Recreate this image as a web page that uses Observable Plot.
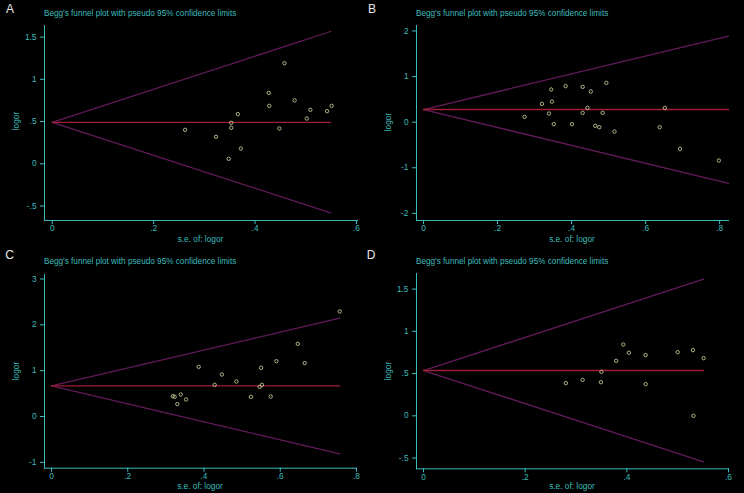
<!DOCTYPE html>
<html>
<head>
<meta charset="utf-8">
<script src="https://cdn.jsdelivr.net/npm/d3@7"></script>
<script src="https://cdn.jsdelivr.net/npm/@observablehq/plot@0.6"></script>
<style>
  html, body { margin: 0; padding: 0; background: #000; }
  #root { position: relative; width: 744px; height: 493px; background: #000; overflow: hidden;
          font-family: "Liberation Sans", Arial, sans-serif; }
  .panel { position: absolute; width: 372px; }
  .panel svg { display: block; }
  .ttl { position: absolute; color: #3cbcbc; font-size: 8.2px; line-height: 10px; white-space: nowrap; }
  .ylab { position: absolute; color: #3cbcbc; font-size: 8.3px; line-height: 8px; white-space: nowrap;
          transform: translate(-50%, -50%) rotate(-90deg); }
  .xlab { position: absolute; color: #3cbcbc; font-size: 8.3px; line-height: 8px; white-space: nowrap;
          transform: translate(-50%, -50%); }
  .letter { position: absolute; color: #e8e8e8; font-size: 12px; line-height: 14px; transform: translate(-50%, -50%); }
</style>
</head>
<body>
<div id="root"></div>
<script>
// ---------- data ----------
const panelLetters = ["A", "B", "C", "D"];
const titleText = "Begg's funnel plot with pseudo 95% confidence limits";
const xTitle = "s.e. of: logor";
const yTitle = "logor";

// Panel A
const seA     = [0.262, 0.323, 0.348, 0.353, 0.353, 0.366, 0.372, 0.427, 0.428, 0.448, 0.458, 0.478, 0.502, 0.509, 0.542, 0.551];
const logorA  = [0.402, 0.320, 0.059, 0.485, 0.426, 0.588, 0.181, 0.840, 0.686, 0.418, 1.191, 0.750, 0.536, 0.639, 0.623, 0.686];
const funnelA = [0.49, 0.549, 1.566, -0.58];   // theta, max s.e., upper limit, lower limit
const xTicksA = [0, 0.2, 0.4, 0.6];
const yTicksA = [-0.5, 0, 0.5, 1, 1.5];

// Panel B
const seB     = [0.273, 0.320, 0.339, 0.345, 0.347, 0.352, 0.384, 0.401, 0.430, 0.430, 0.443, 0.452, 0.464, 0.475, 0.484, 0.494, 0.516, 0.638, 0.652, 0.693, 0.798];
const logorB  = [0.117, 0.402, 0.190, 0.717, 0.453, -0.044, 0.790, -0.044, 0.775, 0.205, 0.314, 0.673, -0.080, -0.110, 0.205, 0.863, -0.205, -0.110, 0.314, -0.585, -0.841];
const funnelB = [0.278, 0.824, 1.887, -1.345];
const xTicksB = [0, 0.2, 0.4, 0.6, 0.8];
const yTicksB = [-2, -1, 0, 1, 2];

// Panel C
const seC     = [0.318, 0.323, 0.330, 0.339, 0.353, 0.386, 0.428, 0.447, 0.485, 0.523, 0.546, 0.550, 0.552, 0.575, 0.590, 0.646, 0.664, 0.756];
const logorC  = [0.444, 0.429, 0.269, 0.480, 0.371, 1.084, 0.691, 0.916, 0.764, 0.429, 0.647, 1.062, 0.691, 0.436, 1.207, 1.585, 1.164, 2.291];
const funnelC = [0.669, 0.756, 2.145, -0.815];
const xTicksC = [0, 0.2, 0.4, 0.6, 0.8];
const yTicksC = [-1, 0, 1, 2, 3];

// Panel D
const seD     = [0.280, 0.313, 0.349, 0.350, 0.379, 0.393, 0.404, 0.437, 0.437, 0.500, 0.530, 0.531, 0.551];
const logorD  = [0.387, 0.426, 0.398, 0.521, 0.651, 0.844, 0.746, 0.718, 0.375, 0.753, 0.777, 0.000, 0.682];
const funnelD = [0.536, 0.551, 1.617, -0.544];
const xTicksD = [0, 0.2, 0.4, 0.6];
const yTicksD = [-0.5, 0, 0.5, 1, 1.5];

// ---------- layout (styles, not data) ----------
const CYAN = "#3cbcbc";
const panels = [
  {se: seA, logor: logorA, funnel: funnelA, xt: xTicksA, yt: yTicksA,
   left: 0, top: 0, h: 246, mt: 25, mb: 26, mr: 15,
   xd: [-0.0152, 0.602], yd: [-0.671, 1.637], ttlY: 9, xlabY: 238.5, ylabY: 121},
  {se: seB, logor: logorB, funnel: funnelB, xt: xTicksB, yt: yTicksB,
   left: 372, top: 0, h: 246, mt: 25, mb: 26, mr: 16,
   xd: [-0.0189, 0.824], yd: [-2.157, 2.121], ttlY: 9, xlabY: 238.5, ylabY: 121.7},
  {se: seC, logor: logorC, funnel: funnelC, xt: xTicksC, yt: yTicksC,
   left: 0, top: 246, h: 247, mt: 28, mb: 25.3, mr: 16,
   xd: [-0.0184, 0.800], yd: [-1.128, 3.098], ttlY: 11, xlabY: 239.5, ylabY: 125},
  {se: seD, logor: logorD, funnel: funnelD, xt: xTicksD, yt: yTicksD,
   left: 372, top: 246, h: 247, mt: 27, mb: 24.7, mr: 16,
   xd: [-0.0138, 0.600], yd: [-0.627, 1.684], ttlY: 11, xlabY: 240, ylabY: 125}
];
const letterPos = [[10, 9], [372, 9], [9.5, 255], [371, 255]];

const fmt = d => d === 0 ? "0" : String(d).replace(/^0\./, ".").replace(/^-0\./, "-.");

const root = document.getElementById("root");

panels.forEach((p, i) => {
  const pts = p.se.map((s, k) => ({se: s, logor: p.logor[k]}));
  const [theta, seMax, upper, lower] = p.funnel;
  const upperLine = [{se: 0, logor: theta}, {se: seMax, logor: upper}];
  const lowerLine = [{se: 0, logor: theta}, {se: seMax, logor: lower}];
  const midLine   = [{se: 0, logor: theta}, {se: seMax, logor: theta}];

  const svg = Plot.plot({
    width: 372,
    height: p.h,
    marginLeft: 44,
    marginRight: p.mr,
    marginTop: p.mt,
    marginBottom: p.mb,
    style: {background: "#000", color: CYAN, fontSize: "8.3px", fontFamily: "'Liberation Sans', Arial, sans-serif"},
    x: {domain: p.xd, ticks: p.xt, tickFormat: fmt, tickSize: 4, tickPadding: 1, line: true, label: null},
    y: {domain: p.yd, ticks: p.yt, tickFormat: fmt, tickSize: 4, tickPadding: 4, line: true, label: null},
    marks: [
      Plot.line(upperLine, {x: "se", y: "logor", stroke: "#621b58", strokeWidth: 1.3}),
      Plot.line(lowerLine, {x: "se", y: "logor", stroke: "#621b58", strokeWidth: 1.3}),
      Plot.line(midLine, {x: "se", y: "logor", stroke: "#a01d35", strokeWidth: 1.4}),
      Plot.dot(pts, {x: "se", y: "logor", r: 1.7, stroke: "#c4c496", strokeWidth: 0.9, fill: "none"})
    ]
  });

  const div = document.createElement("div");
  div.className = "panel";
  div.style.left = p.left + "px";
  div.style.top = p.top + "px";
  div.style.height = p.h + "px";
  div.appendChild(svg);

  const t = document.createElement("div");
  t.className = "ttl";
  t.style.left = "44px";
  t.style.top = (p.ttlY) + "px";
  t.textContent = titleText;
  div.appendChild(t);

  const xl = document.createElement("div");
  xl.className = "xlab";
  xl.style.left = (44 + (372 - p.mr - 44) / 2) + "px";
  xl.style.top = p.xlabY + "px";
  xl.textContent = xTitle;
  div.appendChild(xl);

  const yl = document.createElement("div");
  yl.className = "ylab";
  yl.style.left = "15.7px";
  yl.style.top = p.ylabY + "px";
  yl.textContent = yTitle;
  div.appendChild(yl);

  root.appendChild(div);
});

panelLetters.forEach((L, i) => {
  const l = document.createElement("div");
  l.className = "letter";
  l.style.left = letterPos[i][0] + "px";
  l.style.top = letterPos[i][1] + "px";
  l.textContent = L;
  root.appendChild(l);
});
</script>
</body>
</html>
